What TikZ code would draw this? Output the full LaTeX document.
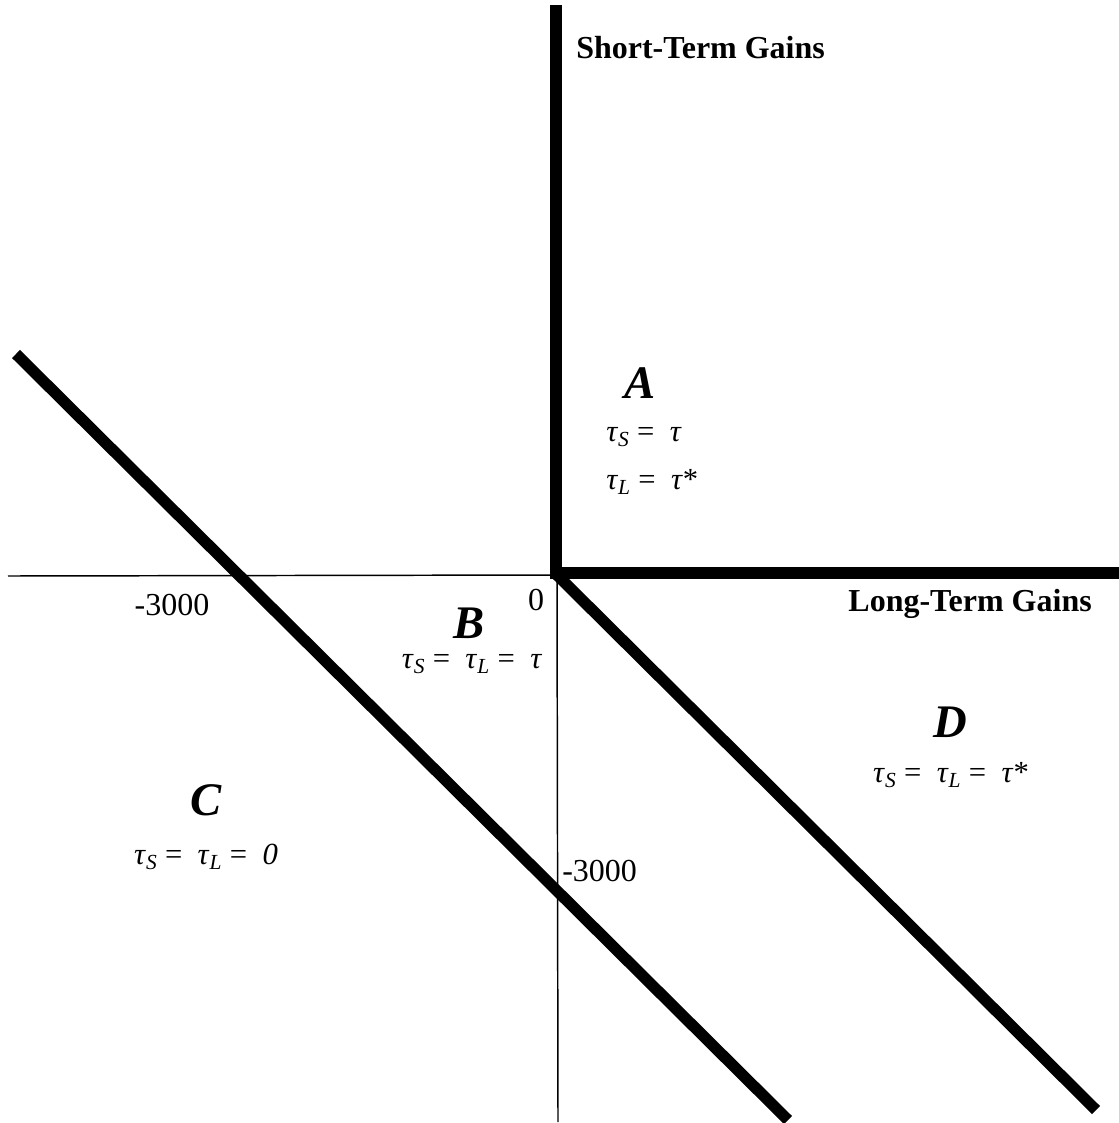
\documentclass[tikz,border=0pt]{standalone}
\usepackage{fontspec}
\setmainfont{Liberation Serif}
\usetikzlibrary{positioning}

\newcommand{\tS}{\textit{τ}\textsubscript{\textit{S}}}
\newcommand{\tL}{\textit{τ}\textsubscript{\textit{L}}}
\newcommand{\is}{\ =\ \ }

\begin{document}
\begin{tikzpicture}[
  x=0.75pt, y=-0.75pt,
  axislabel/.style = {font=\fontsize{24}{28}\selectfont\bfseries, inner sep=0pt},
  ticklabel/.style = {font=\fontsize{24}{28}\selectfont, inner sep=0pt},
  region/.style = {font=\fontsize{35}{40}\selectfont\bfseries\itshape, inner sep=0pt},
  rate/.style = {font=\fontsize{23}{28}\selectfont, inner sep=0pt},
  boundary/.style = {line width=8.5pt, line join=miter},
  axis/.style = {line width=1.1pt},
]
  \useasboundingbox (0,0) rectangle (1118,1123);

  \coordinate (O) at (557,575);
  \coordinate (top) at (556,5);
  \coordinate (corner) at (556,573);
  \coordinate (right) at (1120,573);
  \coordinate (left) at (8,576);
  \coordinate (bottom) at (558,1122);
  \coordinate (c1) at (16,354);
  \coordinate (c2) at (788,1120);
  \coordinate (d1) at (1096,1110);

  % axes
  \draw[axis] (left) -- (O);
  \draw[axis] (O) -- (bottom);

  % boundaries
  \draw[boundary] (top) -- (corner) -- (right);
  \draw[boundary] (c1) -- (c2);
  \draw[boundary] (O) -- (d1);

  \node[axislabel, anchor=west] (stg) at (576,48) {Short-Term Gains};
  \node[axislabel, anchor=east] (ltg) at (1092,604) {Long-Term Gains};
  \node[ticklabel] (xtick) at (172,605) {-3000};
  \node[ticklabel] (zero) at (536,600) {0};
  \node[ticklabel, anchor=west] (ytick) at (562,871) {-3000};

  \node[region] (A) at (640,383) {A};
  \node[rate, anchor=west] (A1) at (606,437) {\tS\is\textit{τ}};
  \node[rate, anchor=west] (A2) at (606,482) {\tL\is\textit{τ}*};

  \node[region] (B) at (469,623) {B};
  \node[rate] (B1) at (472,664) {\tS\is\tL\is\textit{τ}};

  \node[region] (C) at (206,800) {C};
  \node[rate] (C1) at (206,857) {\tS\is\tL\is\textit{0}};

  \node[region] (D) at (950,722) {D};
  \node[rate] (D1) at (951,775) {\tS\is\tL\is\textit{τ}*};
\end{tikzpicture}
\end{document}
